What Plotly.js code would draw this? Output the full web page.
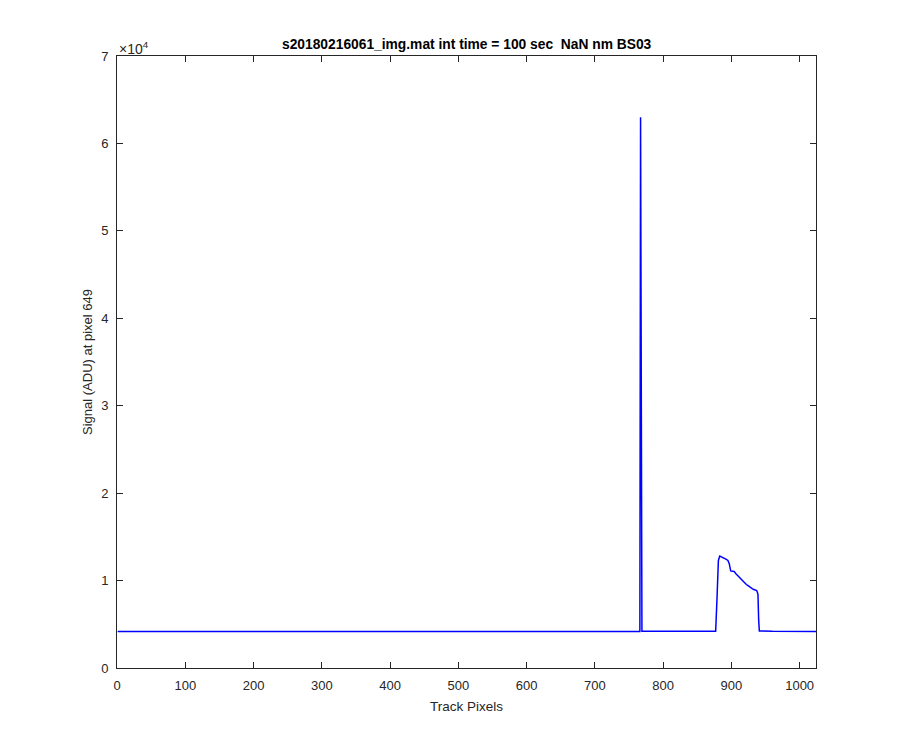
<!DOCTYPE html>
<html>
<head>
<meta charset="utf-8">
<script src="https://cdn.plot.ly/plotly-3.0.1.min.js"></script>
<style>html,body{margin:0;padding:0;background:#fff;}</style>
</head>
<body>
<div id="chart" style="width:900px;height:750px;"></div>
<script>
// Track pixel positions
const trackPixels = [1, 50, 100, 150, 200, 250, 300, 350, 400, 450, 500, 550, 600, 650, 700, 750, 766, 767, 768, 769, 800, 850, 877, 879, 881, 883, 886, 889, 892, 895, 897, 899, 901, 904, 907, 910, 913, 916, 919, 922, 925, 928, 931, 934, 937, 938, 939, 940, 941, 960, 1000, 1024];
// Signal (ADU) values
const signalADU = [4170, 4160, 4180, 4165, 4175, 4170, 4180, 4170, 4185, 4175, 4180, 4170, 4185, 4180, 4175, 4180, 4180, 63000, 30000, 4190, 4190, 4185, 4210, 8000, 12300, 12800, 12700, 12600, 12450, 12300, 11900, 11100, 11050, 11050, 10750, 10500, 10250, 10000, 9750, 9550, 9400, 9200, 9050, 8950, 8850, 8700, 8400, 5500, 4240, 4190, 4180, 4175];
const yTickVals = [0, 10000, 20000, 30000, 40000, 50000, 60000, 70000];
const yTickText = ['0', '1', '2', '3', '4', '5', '6', '7'];
const xTickVals = [0, 100, 200, 300, 400, 500, 600, 700, 800, 900, 1000];

const axisColor = '#262626';
const fontFam = 'Liberation Sans, Arial, Helvetica, sans-serif';

const trace = {
  x: trackPixels,
  y: signalADU,
  type: 'scatter',
  mode: 'lines',
  line: {color: '#0000ff', width: 1.5},
  hoverinfo: 'skip'
};

const common = {
  showgrid: false,
  zeroline: false,
  showline: true,
  linecolor: axisColor,
  linewidth: 1,
  mirror: 'allticks',
  ticks: 'inside',
  ticklen: 6,
  tickcolor: axisColor,
  tickfont: {family: fontFam, size: 13, color: axisColor}
};

const layout = {
  width: 900,
  height: 750,
  margin: {l: 117, r: 84, t: 56, b: 82},
  paper_bgcolor: '#ffffff',
  plot_bgcolor: '#ffffff',
  showlegend: false,
  title: {
    text: '<b>s20180216061_img.mat int time = 100 sec \u00a0NaN nm BS03</b>',
    font: {family: fontFam, size: 13.8, color: '#000000'},
    x: 0.5185, xanchor: 'center',
    y: 1 - 44/750, yanchor: 'middle'
  },
  xaxis: Object.assign({}, common, {
    range: [0, 1024],
    tickvals: xTickVals,
    ticklabelstandoff: 5,
    title: {text: 'Track Pixels', font: {family: fontFam, size: 13.5, color: axisColor}, standoff: 9}
  }),
  yaxis: Object.assign({}, common, {
    range: [0, 70000],
    tickvals: yTickVals,
    ticktext: yTickText,
    ticklabelstandoff: 5,
    title: {text: 'Signal (ADU) at pixel 649', font: {family: fontFam, size: 13, color: axisColor}, standoff: 5}
  }),
  annotations: [{
    text: '\u00d710<sup>4</sup>',
    xref: 'paper', yref: 'paper',
    x: 0, y: 1, xanchor: 'left', yanchor: 'bottom',
    showarrow: false,
    font: {family: fontFam, size: 14, color: axisColor},
    yshift: -3
  }]
};

Plotly.newPlot('chart', [trace], layout, {displayModeBar: false, staticPlot: true});
</script>
</body>
</html>
